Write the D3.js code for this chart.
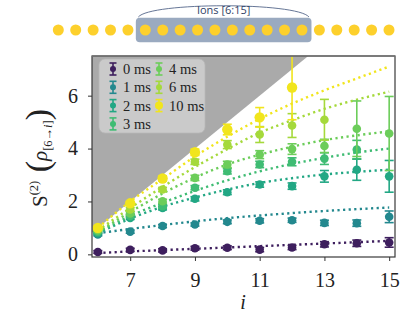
<!DOCTYPE html>
<html><head><meta charset="utf-8">
<script src="https://cdn.jsdelivr.net/npm/d3@7"></script>
<style>body{margin:0;background:#fff}svg{display:block}</style>
</head><body>
<svg id="c" width="416" height="317"></svg>
<script>
const sites = [6,7,8,9,10,11,12,13,14,15];
const xTicks = [7,9,11,13,15];
const yTicks = [0,2,4,6];
const seriesNames = ["0 ms","1 ms","2 ms","3 ms","4 ms","6 ms","10 ms"];
const seriesColors = ["#3e1f5e","#23888e","#22a784","#3fbc73","#6ccd5a","#a5d93b","#f1e51d"];
// measured points (value, error)
const v0  = [0.09,0.17,0.15,0.23,0.25,0.18,0.26,0.38,0.42,0.45];
const e0  = [0.05,0.06,0.06,0.07,0.07,0.08,0.08,0.10,0.12,0.18];
const v1  = [0.75,0.86,1.07,1.13,1.23,1.27,1.29,1.19,1.18,1.42];
const e1  = [0.05,0.06,0.06,0.06,0.07,0.08,0.08,0.10,0.12,0.22];
const v2  = [0.80,1.38,1.75,2.10,2.35,2.64,2.58,2.95,3.20,2.95];
const e2  = [0.05,0.06,0.07,0.08,0.09,0.10,0.12,0.22,0.40,0.60];
const v3  = [0.85,1.45,1.82,2.52,3.14,3.40,3.50,3.62,3.96];
const e3  = [0.05,0.06,0.07,0.08,0.10,0.12,0.15,0.22,0.35];
const v4  = [0.90,1.55,2.01,2.89,3.40,3.77,3.98,4.10,4.75,4.57];
const e4  = [0.05,0.06,0.07,0.10,0.12,0.15,0.20,0.25,1.05,1.40];
const v6  = [0.95,1.70,2.45,3.50,4.15,4.53,4.87,5.09];
const e6  = [0.05,0.07,0.08,0.10,0.15,0.30,0.45,0.77];
const v10 = [1.00,1.93,2.87,3.86,4.72,5.18,6.31];
const e10 = [0.05,0.07,0.10,0.12,0.20,0.37,1.22];
// fitted curves
const f0  = [0.05,0.11,0.16,0.21,0.26,0.31,0.36,0.41,0.46,0.51];
const f1  = [0.80,0.96,1.11,1.25,1.37,1.47,1.56,1.64,1.71,1.77];
const f2  = [0.80,1.35,1.80,2.15,2.45,2.70,2.88,3.02,3.12,3.20];
const f3  = [0.82,1.45,1.95,2.40,2.80,3.14,3.42,3.65,3.85,4.00];
const f4  = [0.85,1.60,2.30,2.90,3.40,3.77,4.07,4.32,4.50,4.65];
const f6  = [0.90,1.75,2.55,3.30,3.98,4.60,5.07,5.50,5.85,6.15];
const f10 = [1.00,2.00,2.85,3.70,4.45,5.12,5.70,6.20,6.65,7.10];

const vals = [v0,v1,v2,v3,v4,v6,v10];
const errs = [e0,e1,e2,e3,e4,e6,e10];
const fits = [f0,f1,f2,f3,f4,f6,f10];

const svg = d3.select("#c");
const pL=92,pR=395,pT=56,pB=257;
const x = d3.scaleLinear().domain([5.82,15.18]).range([pL,pR]);
const y = d3.scaleLinear().domain([-0.1,7.5]).range([pB,pT]);

// ---- top ion chain diagram ----
const ions = d3.range(1,21);
const ix = d3.scaleLinear().domain([1,20]).range([58.3,389]);
const g0 = svg.append("g");
g0.append("rect").attr("x",ix(6)-9.5).attr("y",17.7).attr("width",ix(15)-ix(6)+19).attr("height",24.6)
  .attr("rx",4).attr("fill","#9aaac0");
g0.append("path").attr("d",`M${ix(6)-7},17 C${ix(6)+5},2 ${ix(15)-5},2 ${ix(15)+7},17`)
  .attr("fill","none").attr("stroke","#55668a").attr("stroke-width",0.9);
g0.append("text").attr("x",(ix(6)+ix(15))/2).attr("y",14).attr("text-anchor","middle")
  .attr("font-family","Open Sans, sans-serif").attr("font-size",11).attr("fill","#2f3f66").text("Ions [6:15]");
g0.selectAll("circle").data(ions).join("circle").attr("cx",d=>ix(d)).attr("cy",30).attr("r",5.5).attr("fill","#fdd02c");

// ---- plot ----
const clipId="pc";
svg.append("clipPath").attr("id",clipId).append("rect").attr("x",pL).attr("y",pT).attr("width",pR-pL).attr("height",pB-pT);
const gp = svg.append("g").attr("clip-path",`url(#${clipId})`);
// forbidden (grey) region above maximal entropy i-5
const xs0 = 5.82;
gp.append("path").attr("d",`M${x(xs0)},${y(xs0-5)} L${x(xs0+20)},${y(xs0+15)} L${x(xs0)},${y(20)} Z`).attr("fill","#aaaaaa");

const line = d3.line().x((d,i)=>x(sites[i])).y(d=>y(d)).curve(d3.curveMonotoneX);
fits.forEach((f,k)=>{
  gp.append("path").attr("d",line(f)).attr("fill","none").attr("stroke",seriesColors[k])
    .attr("stroke-width",2.4).attr("stroke-dasharray","2.2,3.4");
});
vals.forEach((vs,k)=>{
  const c = seriesColors[k];
  const g = gp.append("g");
  vs.forEach((v,i)=>{
    const e = errs[k][i], cx = x(sites[i]);
    g.append("line").attr("x1",cx).attr("x2",cx).attr("y1",y(v-e)).attr("y2",y(v+e)).attr("stroke",c).attr("stroke-width",1.6);
    [v-e,v+e].forEach(t=>g.append("line").attr("x1",cx-4.5).attr("x2",cx+4.5).attr("y1",y(t)).attr("y2",y(t)).attr("stroke",c).attr("stroke-width",1.6));
    g.append("circle").attr("cx",cx).attr("cy",y(v)).attr("r",k===6?5.2:4.3).attr("fill",c);
  });
});

// frame
svg.append("rect").attr("x",pL).attr("y",pT).attr("width",pR-pL).attr("height",pB-pT)
  .attr("fill","none").attr("stroke","#3a3a3a").attr("stroke-width",1.2);
svg.append("line").attr("x1",pL).attr("x2",pR).attr("y1",pT).attr("y2",pT).attr("stroke","#777").attr("stroke-width",1.4);

// axes
const serif = "Liberation Serif, DejaVu Serif, serif";
const xa = svg.append("g").attr("transform",`translate(0,${pB})`).call(d3.axisBottom(x).tickValues(xTicks).tickSize(4).tickPadding(12));
const ya = svg.append("g").attr("transform",`translate(${pL},0)`).call(d3.axisLeft(y).tickValues(yTicks).tickSize(4).tickPadding(10));
[xa,ya].forEach(a=>{a.select(".domain").remove();a.selectAll("line").attr("stroke","#333");
  a.selectAll("text").attr("font-family",serif).attr("font-size",20).attr("fill","#222");});

svg.append("text").attr("x",243).attr("y",309).attr("text-anchor","middle").attr("font-family",serif)
  .attr("font-style","italic").attr("font-size",20).attr("fill","#222").text("i");

const yl = svg.append("text").attr("transform","translate(47,158) rotate(-90)").attr("text-anchor","middle")
  .attr("font-family",serif).attr("font-size",21).attr("fill","#222");
yl.append("tspan").text("S");
yl.append("tspan").attr("font-size",12.5).attr("dy",-9).text("(2)");
yl.append("tspan").attr("font-size",34).attr("dy",11).text(" (");
yl.append("tspan").attr("font-style","italic").attr("dy",-2).text("ρ");
yl.append("tspan").attr("font-size",12.5).attr("dy",5).text("[6→");
yl.append("tspan").attr("font-size",12.5).attr("font-style","italic").text("i");
yl.append("tspan").attr("font-size",12.5).text("]");
yl.append("tspan").attr("font-size",34).attr("dy",-3).text(")");

// legend
const lg = svg.append("g");
lg.append("rect").attr("x",99).attr("y",59).attr("width",106).attr("height",74).attr("rx",6)
  .attr("fill","#d4d4d4").attr("fill-opacity",0.75).attr("stroke","#b8b8b8").attr("stroke-width",0.8);
seriesNames.forEach((n,k)=>{
  const col = k<4?0:1, row = k<4?k:k-4;
  const cx = col===0?113:159, cy = 69+row*18.3;
  const c = seriesColors[k];
  lg.append("line").attr("x1",cx).attr("x2",cx).attr("y1",cy-6).attr("y2",cy+6).attr("stroke",c).attr("stroke-width",1.6);
  [cy-6,cy+6].forEach(t=>lg.append("line").attr("x1",cx-3.5).attr("x2",cx+3.5).attr("y1",t).attr("y2",t).attr("stroke",c).attr("stroke-width",1.6));
  lg.append("circle").attr("cx",cx).attr("cy",cy).attr("r",k===6?4:3).attr("fill",c);
  lg.append("text").attr("x",cx+10).attr("y",cy+5).attr("font-family",serif).attr("font-size",14.5).attr("fill","#222").text(n);
});
</script>
</body></html>
